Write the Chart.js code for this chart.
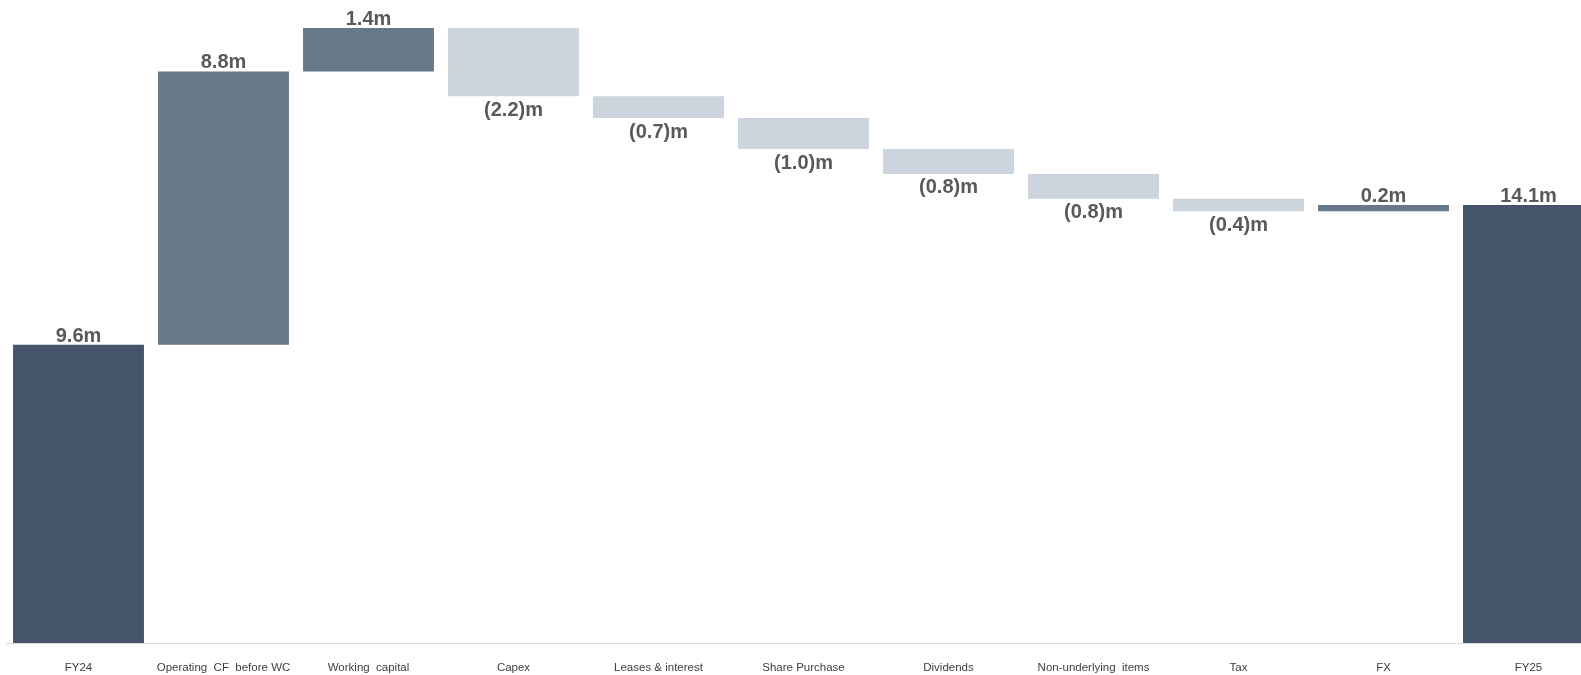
<!DOCTYPE html>
<html>
<head>
<meta charset="utf-8">
<script src="https://cdn.jsdelivr.net/npm/chart.js@4/dist/chart.umd.min.js"></script>
<style>
    html, body { margin: 0; padding: 0; background: #ffffff; overflow: hidden; }
    #wrap { width: 1601px; height: 675px; }
</style>
</head>
<body>
<div id="wrap"><canvas id="bridge" width="1601" height="675"></canvas></div>
<script>
// cash bridge, values in £m
const categories = ["FY24", "Operating  CF  before WC", "Working  capital", "Capex", "Leases & interest",
    "Share Purchase", "Dividends", "Non-underlying  items", "Tax", "FX", "FY25"];
const movements = [9.6, 8.8, 1.4, -2.2, -0.7, -1.0, -0.8, -0.8, -0.4, 0.2, 14.1];
const isTotal = [true, false, false, false, false, false, false, false, false, false, true];
const valueLabels = ["9.6m", "8.8m", "1.4m", "(2.2)m", "(0.7)m", "(1.0)m", "(0.8)m", "(0.8)m", "(0.4)m", "0.2m", "14.1m"];

const totalColor = "#44546a";
const upColor = "#677888";
const downColor = "#ccd5dd";

// build floating ranges
let running = 0;
const ranges = [];
const colors = [];
movements.forEach((v, i) => {
    if (isTotal[i]) {
        ranges.push([0, v]);
        running = v;
        colors.push(totalColor);
    } else {
        ranges.push([running, running + v]);
        running += v;
        colors.push(v >= 0 ? upColor : downColor);
    }
});

// draws the "x.xm" labels above rises, below falls
const barLabels = {
    id: "barLabels",
    afterDatasetsDraw(chart) {
        const ctx = chart.ctx;
        const meta = chart.getDatasetMeta(0);
        ctx.save();
        ctx.font = "bold 20px 'Liberation Sans', Arial, sans-serif";
        ctx.fillStyle = "#595959";
        ctx.textAlign = "center";
        meta.data.forEach((bar, i) => {
            const top = Math.min(bar.y, bar.base);
            const bottom = Math.max(bar.y, bar.base);
            if (movements[i] >= 0) {
                ctx.textBaseline = "alphabetic";
                ctx.fillText(valueLabels[i], bar.x, top - 3);
            } else {
                ctx.textBaseline = "top";
                ctx.fillText(valueLabels[i], bar.x, bottom + 4);
            }
        });
        ctx.restore();
    }
};

new Chart(document.getElementById("bridge").getContext("2d"), {
    type: "bar",
    data: {
        labels: categories,
        datasets: [{
            data: ranges,
            backgroundColor: colors,
            borderWidth: 0,
            barPercentage: 0.903,
            categoryPercentage: 1.0
        }]
    },
    options: {
        responsive: false,
        animation: false,
        layout: { padding: { left: 6, right: 0, top: 0, bottom: 2 } },
        plugins: {
            legend: { display: false },
            tooltip: { enabled: false }
        },
        scales: {
            x: {
                grid: { display: false, drawTicks: false },
                border: { display: true, color: "#d9d9d9", width: 1 },
                afterFit: scale => { scale.height = 30; },
                ticks: {
                    color: "#404040",
                    padding: 18,
                    maxRotation: 0,
                    autoSkip: false,
                    font: { family: "'Liberation Sans', Arial, sans-serif", size: 11.5 }
                }
            },
            y: {
                display: false,
                min: 0,
                max: 20.7
            }
        }
    },
    plugins: [barLabels]
});
</script>
</body>
</html>
